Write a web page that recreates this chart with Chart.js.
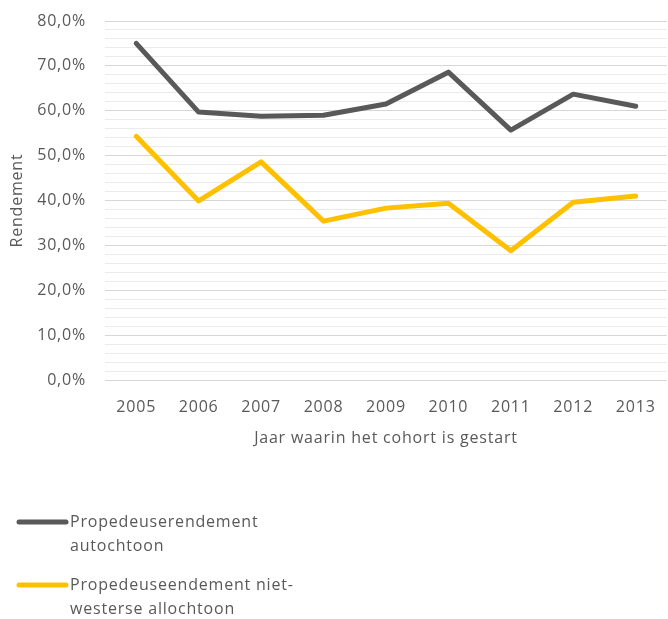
<!DOCTYPE html>
<html>
<head>
<meta charset="utf-8">
<script src="https://cdn.jsdelivr.net/npm/chart.js@4/dist/chart.umd.min.js"></script>
<style>
  html, body { margin: 0; padding: 0; background: #fff; overflow: hidden; }
  #wrap { position: relative; width: 672px; height: 619px; }
</style>
</head>
<body>
<div id="wrap"><canvas id="c"></canvas></div>
<script>
// Cohort start years
const years = ['2005', '2006', '2007', '2008', '2009', '2010', '2011', '2012', '2013'];

// First-year (propedeuse) pass rate, in percent
const autochtoon = [75.0, 59.7, 58.8, 59.0, 61.5, 68.6, 55.7, 63.7, 61.0];
const nietWestersAllochtoon = [54.3, 39.9, 48.6, 35.4, 38.3, 39.4, 28.8, 39.6, 41.0];

// Series names, and how they wrap in the legend
const seriesNames = ['Propedeuserendement autochtoon', 'Propedeuseendement niet-westerse allochtoon'];
const legendLines = [
  ['Propedeuserendement', 'autochtoon'],
  ['Propedeuseendement niet-', 'westerse allochtoon']
];

const textColor = '#595959';
const fontFamily = '"Open Sans", "Liberation Sans", sans-serif';
const spacing = '0.8px';

// Slightly airy lettering for all canvas text
const letterSpacing = {
  id: 'letterSpacing',
  beforeDraw(chart) { chart.ctx.letterSpacing = spacing; }
};

// Legend below the plot, with wrapped two-line labels
const wrappedLegend = {
  id: 'wrappedLegend',
  afterDraw(chart) {
    const ctx = chart.ctx;
    const rows = [522, 585];
    ctx.save();
    ctx.letterSpacing = spacing;
    chart.data.datasets.forEach((ds, i) => {
      const y = rows[i];
      ctx.strokeStyle = ds.borderColor;
      ctx.lineWidth = 5;
      ctx.lineCap = 'round';
      ctx.beginPath();
      ctx.moveTo(19, y);
      ctx.lineTo(66, y);
      ctx.stroke();
      ctx.fillStyle = textColor;
      ctx.font = '16px ' + fontFamily;
      ctx.textBaseline = 'middle';
      ctx.textAlign = 'left';
      legendLines[i].forEach((line, k) => {
        ctx.fillText(line, 70, y + k * 24);
      });
    });
    ctx.restore();
  }
};

new Chart(document.getElementById('c'), {
  type: 'line',
  data: {
    labels: years,
    datasets: [
      {
        label: seriesNames[0],
        data: autochtoon,
        borderColor: '#595959',
        backgroundColor: '#595959',
        borderWidth: 5,
        pointRadius: 0,
        tension: 0,
        borderJoinStyle: 'round',
        borderCapStyle: 'round'
      },
      {
        label: seriesNames[1],
        data: nietWestersAllochtoon,
        borderColor: '#FFC000',
        backgroundColor: '#FFC000',
        borderWidth: 5,
        pointRadius: 0,
        tension: 0,
        borderJoinStyle: 'round',
        borderCapStyle: 'round'
      }
    ]
  },
  options: {
    responsive: true,
    maintainAspectRatio: false,
    animation: false,
    layout: { padding: { top: 21, left: 0, right: 0, bottom: 159 } },
    plugins: {
      legend: { display: false },
      tooltip: { enabled: false }
    },
    scales: {
      x: {
        offset: true,
        grid: { display: false, drawTicks: false },
        border: { display: false },
        ticks: {
          color: textColor,
          font: { family: fontFamily, size: 16 },
          padding: 18,
          maxRotation: 0
        },
        title: {
          display: true,
          text: 'Jaar waarin het cohort is gestart',
          color: textColor,
          font: { family: fontFamily, size: 16 },
          padding: { top: 0, bottom: 12 }
        },
        afterFit(scale) { scale.height = 80; }
      },
      y: {
        min: 0,
        max: 80,
        grid: {
          drawTicks: false,
          lineWidth: 1,
          color: (ctx) => (ctx.tick && ctx.tick.value % 10 === 0) ? '#d6d6d6' : '#ebebeb'
        },
        border: { display: false },
        ticks: {
          stepSize: 2,
          autoSkip: false,
          color: textColor,
          font: { family: fontFamily, size: 16 },
          padding: 19,
          callback: (v) => v % 10 === 0 ? v.toFixed(1).replace('.', ',') + '%' : ''
        },
        title: {
          display: true,
          text: 'Rendement',
          color: textColor,
          font: { family: fontFamily, size: 16 },
          padding: { top: 8, bottom: 0 }
        },
        afterFit(scale) {
          scale.width = 105;
          scale.paddingTop = 0;
          scale.paddingBottom = 0;
        }
      }
    }
  },
  plugins: [letterSpacing, wrappedLegend]
});
</script>
</body>
</html>
